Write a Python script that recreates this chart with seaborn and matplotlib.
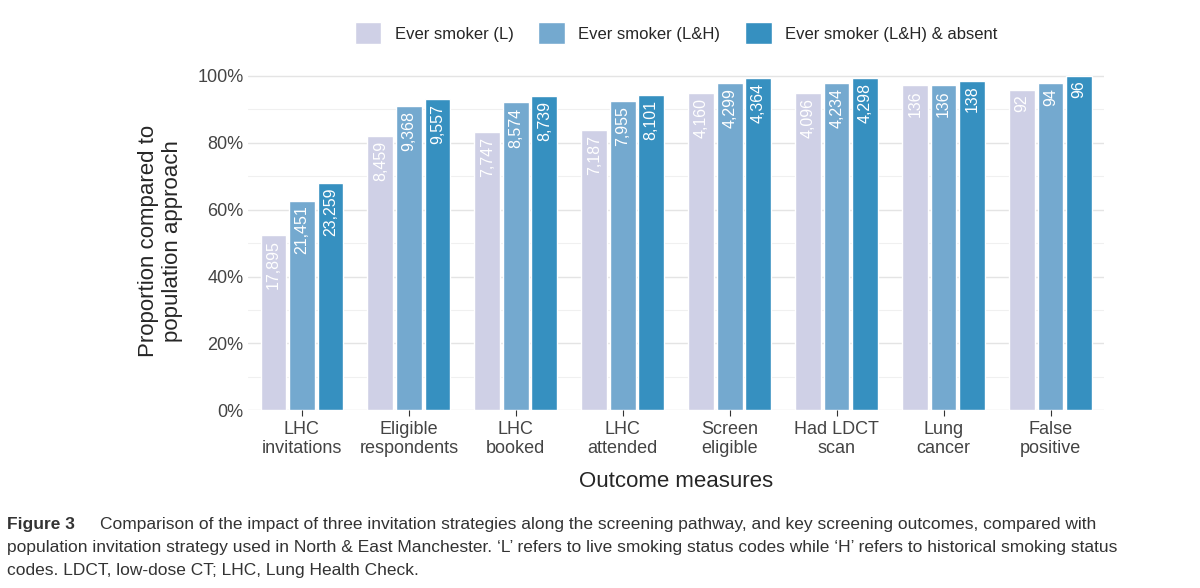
import numpy as np
import pandas as pd
import seaborn as sns
import matplotlib.pyplot as plt
from matplotlib.ticker import MultipleLocator, PercentFormatter

categories = ["LHC\ninvitations", "Eligible\nrespondents", "LHC\nbooked", "LHC\nattended",
              "Screen\neligible", "Had LDCT\nscan", "Lung\ncancer", "False\npositive"]
strategies = ["Ever smoker (L)", "Ever smoker (L&H)", "Ever smoker (L&H) & absent"]
prop_l = [52.3, 82.1, 83.1, 83.8, 94.8, 94.7, 97.1, 95.8]
prop_lh = [62.7, 90.9, 92.0, 92.5, 97.7, 97.7, 97.1, 97.9]
prop_lha = [68.0, 92.9, 93.8, 94.3, 99.3, 99.3, 98.5, 100.0]
count_l = ["17,895", "8,459", "7,747", "7,187", "4,160", "4,096", "136", "92"]
count_lh = ["21,451", "9,368", "8,574", "7,955", "4,299", "4,234", "136", "94"]
count_lha = ["23,259", "9,557", "8,739", "8,101", "4,364", "4,298", "138", "96"]

df = pd.DataFrame({
    "cat": categories * 3,
    "strategy": np.repeat(strategies, len(categories)),
    "prop": prop_l + prop_lh + prop_lha,
    "label": count_l + count_lh + count_lha,
})

sns.set_style("white")
plt.rcParams["font.family"] = ["Liberation Sans", "DejaVu Sans"]
fig = plt.figure(figsize=(12, 5.88), dpi=100)
ax = fig.add_axes([0.207, 0.302, 0.713, 0.575])
palette = ["#cfd0e6", "#74a9cf", "#3690c0"]
sns.barplot(data=df, x="cat", y="prop", hue="strategy", palette=palette,
            width=0.8, gap=0.1, ax=ax, saturation=1)

for cont, labels in zip(ax.containers, [count_l, count_lh, count_lha]):
    for bar, lab in zip(cont, labels):
        ax.text(bar.get_x() + bar.get_width() / 2, bar.get_height() - 1.5, lab,
                rotation=90, ha="center", va="top", color="white", fontsize=11.5)

ax.set_ylim(0, 101)
ax.yaxis.set_major_locator(MultipleLocator(20))
ax.yaxis.set_minor_locator(MultipleLocator(10))
ax.yaxis.set_major_formatter(PercentFormatter(decimals=0))
ax.grid(axis="y", which="major", color="#e4e4e4", lw=1)
ax.grid(axis="y", which="minor", color="#f0f0f0", lw=0.8)
ax.set_axisbelow(True)
for s in ax.spines.values():
    s.set_visible(False)
ax.tick_params(axis="x", length=4, color="#333333", labelsize=13, labelcolor="#444444", bottom=True)
ax.tick_params(axis="y", labelsize=13, labelcolor="#444444", length=0)
ax.set_xlabel("Outcome measures", fontsize=16, labelpad=10)
ax.set_ylabel("Proportion compared to\npopulation approach", fontsize=16, labelpad=10)
ax.legend(loc="lower center", bbox_to_anchor=(0.5, 1.04), ncol=3, frameon=False,
          fontsize=12, handlelength=1.6, handleheight=1.6, columnspacing=1.5)

fig.text(0.006, 0.1, "Figure 3", fontsize=12.5, fontweight="bold", color="#333333")
fig.text(0.083, 0.1, "Comparison of the impact of three invitation strategies along the screening pathway, and key screening outcomes, compared with",
         fontsize=12.5, color="#333333")
fig.text(0.006, 0.061, "population invitation strategy used in North & East Manchester. \u2018L\u2019 refers to live smoking status codes while \u2018H\u2019 refers to historical smoking status",
         fontsize=12.5, color="#333333")
fig.text(0.006, 0.022, "codes. LDCT, low-dose CT; LHC, Lung Health Check.", fontsize=12.5, color="#333333")

fig.savefig("out.png", dpi=100)
